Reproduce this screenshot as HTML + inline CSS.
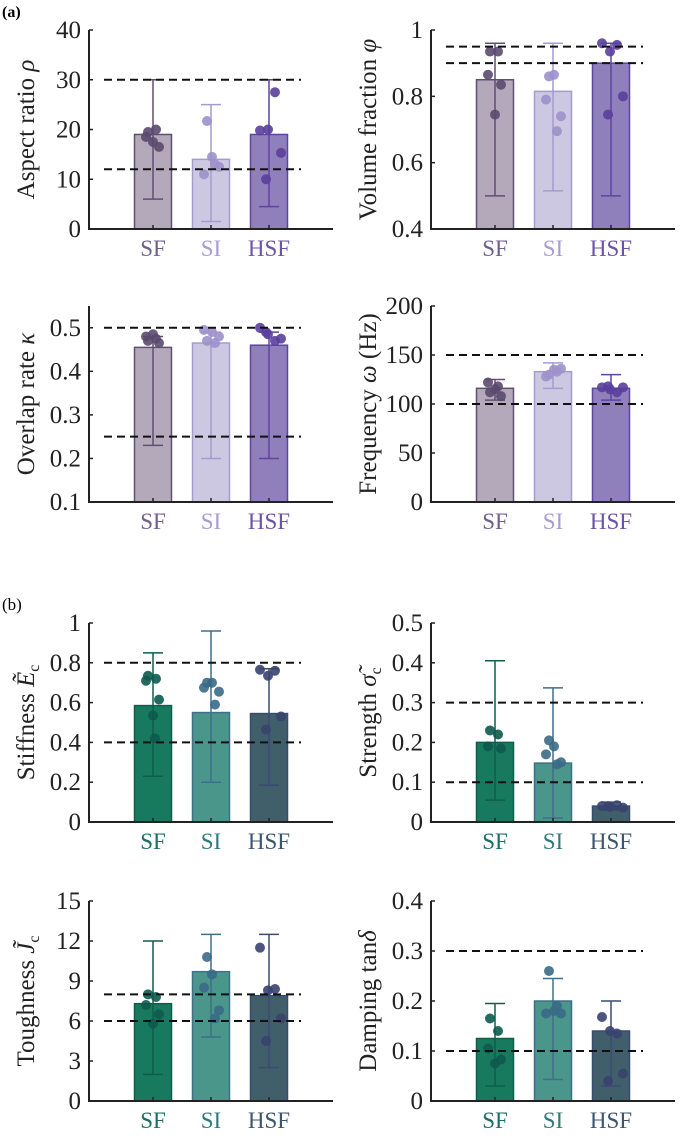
<!DOCTYPE html>
<html><head><meta charset="utf-8">
<style>
html,body{margin:0;padding:0;background:#fff;}
svg, svg text{font-family:"Liberation Serif","Times New Roman",Times,serif;}
</style></head>
<body>
<svg id="fig" width="685" height="1135" viewBox="0 0 685 1135" xmlns="http://www.w3.org/2000/svg" font-family="Liberation Serif, Times New Roman, serif">
<text x="2" y="17" font-size="16" font-weight="bold" font-family="Liberation Serif, serif">(a)</text>
<text x="2" y="610" font-size="17" font-family="Liberation Serif, serif">(b)</text>
</svg>
<script>
const categories = ["SF","SI","HSF"];
const aspectBars = [19, 14, 19];
const aspectErrLo = [6, 1.5, 4.5];
const aspectErrHi = [30, 25, 30];
const aspectDots = [[19.5,20,18.5,16.5,17.5],[21.7,14.5,11,12.5,13],[19.8,20,27.5,15.3,10]];
const aspectRef = [30, 12];
const aspectTicks = [0,10,20,30,40];

const volBars = [0.85, 0.815, 0.90];
const volErrLo = [0.50, 0.515, 0.50];
const volErrHi = [0.96, 0.96, 0.96];
const volDots = [[0.935,0.935,0.865,0.835,0.745],[0.86,0.865,0.79,0.74,0.695],[0.96,0.935,0.955,0.80,0.745]];
const volRef = [0.95, 0.90];
const volTicks = [0.4,0.6,0.8,1];

const ovBars = [0.455, 0.465, 0.46];
const ovErrLo = [0.23, 0.20, 0.20];
const ovErrHi = [0.48, 0.49, 0.49];
const ovDots = [[0.47,0.475,0.48,0.465,0.485],[0.47,0.49,0.495,0.48,0.465],[0.50,0.485,0.47,0.475,0.49]];
const ovRef = [0.5, 0.25];
const ovTicks = [0.1,0.2,0.3,0.4,0.5];

const frBars = [116, 133, 116];
const frErrLo = [104, 116, 104];
const frErrHi = [125, 142, 130];
const frDots = [[112,118,122,108,115],[130,135,128,136,133],[117,115,112,117,118]];
const frRef = [150, 100];
const frTicks = [0,50,100,150,200];

const stBars = [0.585, 0.55, 0.545];
const stErrLo = [0.23, 0.20, 0.185];
const stErrHi = [0.85, 0.96, 0.77];
const stDots = [[0.735,0.72,0.71,0.615,0.535,0.42],[0.70,0.70,0.675,0.655,0.59],[0.765,0.735,0.76,0.53,0.465]];
const stRef = [0.8, 0.4];
const stTicks = [0,0.2,0.4,0.6,0.8,1];

const srBars = [0.20, 0.148, 0.04];
const srErrLo = [0.055, 0.01, 0.03];
const srErrHi = [0.405, 0.337, 0.05];
const srDots = [[0.23,0.22,0.19,0.185],[0.205,0.19,0.17,0.15,0.145],[0.04,0.038,0.042,0.036,0.04]];
const srRef = [0.3, 0.1];
const srTicks = [0,0.1,0.2,0.3,0.4,0.5];

const tgBars = [7.3, 9.7, 7.9];
const tgErrLo = [2, 4.8, 2.5];
const tgErrHi = [12, 12.5, 12.5];
const tgDots = [[8.0,7.8,7.2,6.5,5.8],[10.8,9.5,8.5,6.8,6.2],[11.5,8.3,8.4,6.2,4.5]];
const tgRef = [8, 6];
const tgTicks = [0,3,6,9,12,15];

const dmBars = [0.125, 0.20, 0.14];
const dmErrLo = [0.03, 0.043, 0.03];
const dmErrHi = [0.195, 0.245, 0.20];
const dmDots = [[0.165,0.14,0.105,0.083,0.075],[0.26,0.18,0.175,0.175,0.19],[0.168,0.14,0.135,0.055,0.04]];
const dmRef = [0.3, 0.1];
const dmTicks = [0,0.1,0.2,0.3,0.4];

const NS = "http://www.w3.org/2000/svg";
const FF = "Liberation Serif, Times New Roman, serif";
const svg = document.getElementById('fig');
function mk(tag, attrs, parent){const e=document.createElementNS(NS,tag);for(const k in attrs)e.setAttribute(k,attrs[k]);(parent||svg).appendChild(e);return e;}

const purple = {fill:["#b3a9bb","#cdc8e2","#8f7fbb"],edge:["#5f5070","#a59bd0","#5d45a0"],dot:["#5a4a6e","#9d91cb","#5a3f9c"],lab:["#6f5f8f","#a89cd0","#6b53a8"]};
const green = {fill:["#177a5e","#4a968a","#415f6a"],edge:["#0f5e4a","#3f6f8a","#3b4a72"],dot:["#0d5a4e","#3a6a86","#38436e"],lab:["#1b6e66","#2f7a7a","#3c5570"]};
const jit = [[-5,3,-7,6,0,2],[-4,1,-7,8,4],[-9,-1,6,12,-3]];

function panel(name, ax, top, bot, ymin, ymax, ticks, tickFmt, bars, lo, hi, dots, refs, pal, ylabelHTML){
  const g = mk('g',{'font-family':FF});
  
  
  const y = v => bot - (v-ymin)/(ymax-ymin)*(bot-top);
  const centers = [ax+64, ax+122, ax+180];
  const bw = 37;
  bars.forEach((v,i)=>{
    const r = mk('rect',{x:centers[i]-bw/2,y:y(v),width:bw,height:bot-y(v),fill:pal.fill[i],stroke:pal.edge[i],'stroke-width':1.5},g);
    
    
  });
  bars.forEach((v,i)=>{
    const eg = mk('g',{stroke:pal.edge[i],'stroke-width':1.5},g);
    
    
    mk('line',{x1:centers[i],x2:centers[i],y1:y(lo[i]),y2:y(hi[i])},eg);
    mk('line',{x1:centers[i]-10,x2:centers[i]+10,y1:y(lo[i]),y2:y(lo[i])},eg);
    mk('line',{x1:centers[i]-10,x2:centers[i]+10,y1:y(hi[i]),y2:y(hi[i])},eg);
  });
  dots.forEach((arr,i)=>{
    arr.forEach((v,j)=>{
      const c = mk('circle',{cx:centers[i]+jit[i][j%jit[i].length],cy:y(v),r:5,fill:pal.dot[i],'fill-opacity':0.9},g);
      
      
    });
  });
  refs.forEach(v=>{
    const l = mk('line',{x1:ax+15,x2:ax+212,y1:y(v),y2:y(v),stroke:'#111','stroke-width':2,'stroke-dasharray':'8,5'},g);
    
    
  });
  const ya = mk('line',{x1:ax,x2:ax,y1:top,y2:bot+1,stroke:'#222','stroke-width':2},g);
  
  
  const xa = mk('line',{x1:ax-1,x2:ax+244,y1:bot,y2:bot,stroke:'#222','stroke-width':2},g);
  
  
  ticks.forEach(t=>{
    mk('line',{x1:ax,x2:ax+4,y1:y(t),y2:y(t),stroke:'#222','stroke-width':1.5},g);
    const tx = mk('text',{x:ax-8,y:y(t)+8,'font-size':25,'text-anchor':'end',fill:'#222','font-family':FF},g);
    tx.textContent = tickFmt(t);
    
    
  });
  categories.forEach((c,i)=>{
    mk('line',{x1:centers[i],x2:centers[i],y1:bot,y2:bot-4,stroke:'#222','stroke-width':1.5},g);
    const tx = mk('text',{x:centers[i],y:bot+27,'font-size':23,'text-anchor':'middle',fill:pal.lab[i],'font-family':FF},g);
    tx.textContent = c;
    
    
  });
  const yl = mk('text',{transform:`translate(${ax-55},${(top+bot)/2}) rotate(-90)`,'font-size':25,'text-anchor':'middle',fill:'#222','font-family':FF},g);
  yl.innerHTML = ylabelHTML;
  
  
}
const f0 = t=>String(t);
const f1 = t=>t===0?'0':(t===1?'1':t.toFixed(1));
const L=89, R=431;
panel('aspect-ratio-chart',L,30,229,0,40,aspectTicks,f0,aspectBars,aspectErrLo,aspectErrHi,aspectDots,aspectRef,purple,'Aspect ratio <tspan font-style="italic">ρ</tspan>');
panel('volume-fraction-chart',R,30,229,0.4,1,volTicks,f1,volBars,volErrLo,volErrHi,volDots,volRef,purple,'Volume fraction <tspan font-style="italic">φ</tspan>');
panel('overlap-rate-chart',L,306,502,0.1,0.55,ovTicks,f1,ovBars,ovErrLo,ovErrHi,ovDots,ovRef,purple,'Overlap rate <tspan font-style="italic">κ</tspan>');
panel('frequency-chart',R,306,502,0,200,frTicks,f0,frBars,frErrLo,frErrHi,frDots,frRef,purple,'Frequency <tspan font-style="italic">ω</tspan> (Hz)');
panel('stiffness-chart',L,623,822,0,1,stTicks,f1,stBars,stErrLo,stErrHi,stDots,stRef,green,'Stiffness <tspan font-style="italic">Ẽ</tspan><tspan font-size="16" dy="5">c</tspan>');
panel('strength-chart',R,623,822,0,0.5,srTicks,f1,srBars,srErrLo,srErrHi,srDots,srRef,green,'Strength <tspan font-style="italic">σ̃</tspan><tspan font-size="16" dy="5">c</tspan>');
panel('toughness-chart',L,901,1101,0,15,tgTicks,f0,tgBars,tgErrLo,tgErrHi,tgDots,tgRef,green,'Toughness <tspan font-style="italic">J̃</tspan><tspan font-size="16" dy="5">c</tspan>');
panel('damping-chart',R,901,1101,0,0.4,dmTicks,f1,dmBars,dmErrLo,dmErrHi,dmDots,dmRef,green,'Damping  tan<tspan font-style="italic">δ</tspan>');
</script>
</body></html>
